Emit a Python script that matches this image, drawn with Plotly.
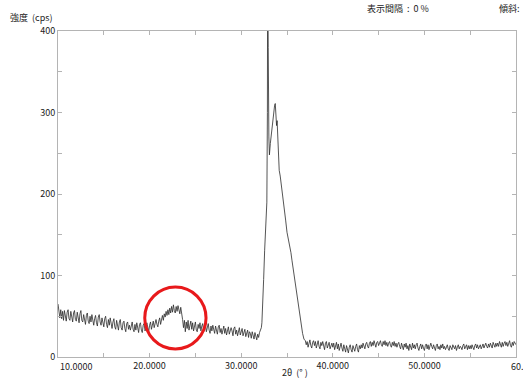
import numpy as np
import plotly.graph_objects as go

# ---- data ----
theta_low = np.round(np.arange(10.0, 32.15, 0.1), 2)
int_low = [
    65, 55, 48, 58, 47, 56, 45, 57, 51, 44,
    55, 58, 47, 45, 56, 50, 43, 54, 57, 46,
    44, 55, 48, 42, 53, 57, 45, 43, 52, 46,
    40, 51, 54, 44, 41, 50, 43, 52, 46, 39,
    47, 51, 42, 38, 49, 52, 43, 39, 48, 41,
    37, 47, 50, 40, 36, 46, 39, 48, 42, 35,
    43, 47, 37, 34, 45, 39, 33, 43, 46, 36,
    33, 42, 44, 35, 31, 41, 43, 34, 39, 33,
    41, 43, 34, 31, 40, 33, 42, 36, 30, 40,
    42, 33, 30, 39, 41, 32, 35, 42, 36, 31,
    39, 43, 34, 40, 44, 36, 41, 46, 40, 37,
    44, 48, 40, 46, 51, 45, 53, 49, 56, 51,
    58, 52, 60, 54, 62, 55, 64, 57, 54, 62,
    56, 63, 57, 53, 61, 55, 46, 36, 45, 31,
    43, 35, 45, 33, 41, 44, 34, 42, 32, 40,
    43, 33, 31, 40, 35, 42, 32, 38, 41, 31,
    37, 40, 31, 36, 41, 33, 29, 38, 32, 39,
    35, 29, 38, 32, 28, 37, 39, 30, 35, 28,
    34, 38, 29, 35, 27, 34, 37, 28, 33, 36,
    32, 26, 35, 37, 28, 33, 26, 32, 36, 27,
    32, 35, 26, 31, 34, 25, 30, 33, 24, 31,
    29, 23, 31, 27, 22, 30, 26, 21, 28, 24,
    30, 34,
]

theta_peak = [32.20, 32.26, 32.35, 32.45, 32.56, 32.68, 32.80, 32.86, 32.89, 32.95,
              33.02, 33.08, 33.18, 33.30, 33.42, 33.55, 33.65, 33.72, 33.80, 33.86,
              33.92, 34.00, 34.07, 34.15, 34.26, 34.37, 34.55, 34.73, 34.85, 35.00,
              35.10, 35.20, 35.30, 35.43, 35.55, 35.65, 35.75, 35.83, 35.95, 36.10,
              36.25, 36.40, 36.56, 36.70, 36.85]
int_peak = [36, 42, 62, 95, 131, 160, 190, 300, 520, 380,
            270, 248, 262, 275, 288, 298, 309, 311, 290, 284,
            290, 262, 248, 229, 222, 213, 196, 180, 168, 153,
            148, 142, 136, 128, 118, 110, 100, 94, 84, 74,
            60, 48, 37, 29, 22]

theta_high = np.round(np.arange(37.0, 60.05, 0.1), 2)
int_high = [
    20, 15, 19, 12, 18, 21, 14, 11, 18, 20,
    14, 19, 11, 16, 20, 13, 10, 18, 14, 19,
    13, 9, 17, 19, 11, 15, 18, 10, 14, 17,
    12, 17, 9, 14, 18, 10, 16, 8, 13, 17,
    11, 7, 15, 10, 6, 14, 9, 5, 12, 15,
    9, 6, 14, 10, 7, 13, 16, 9, 6, 14,
    10, 15, 11, 17, 13, 10, 16, 18, 13, 11,
    17, 19, 13, 18, 14, 20, 16, 12, 18, 19,
    14, 18, 20, 15, 13, 19, 15, 20, 14, 18,
    13, 17, 19, 14, 12, 18, 14, 19, 13, 17,
    12, 16, 18, 13, 10, 17, 13, 9, 16, 12,
    17, 10, 14, 8, 16, 12, 9, 17, 11, 15,
    10, 15, 17, 11, 8, 13, 16, 10, 15, 11,
    8, 14, 16, 10, 15, 9, 12, 17, 13, 10,
    15, 11, 8, 14, 16, 10, 13, 9, 15, 11,
    16, 10, 13, 9, 12, 15, 10, 8, 14, 12,
    9, 15, 12, 10, 14, 8, 12, 15, 10, 13,
    12, 9, 14, 16, 10, 12, 15, 9, 14, 10,
    14, 10, 15, 12, 9, 14, 16, 11, 15, 10,
    12, 15, 10, 14, 16, 11, 15, 17, 13, 11,
    16, 12, 17, 14, 11, 18, 15, 12, 17, 13,
    17, 13, 19, 14, 12, 18, 13, 17, 19, 14,
    18, 13, 17, 20, 14, 12, 18, 14, 19, 16,
    15,
]

theta = list(theta_low) + theta_peak + list(theta_high)
intensity = int_low[:len(theta_low)] + int_peak + int_high[:len(theta_high)]

x_ticks = [10, 15, 20, 25, 30, 35, 40, 45, 50, 55, 60]
x_ticktext = ["", "", "20.0000", "", "30.0000", "", "40.0000", "", "50.0000", "", ""]
y_ticks = [0, 50, 100, 150, 200, 250, 300, 350, 400]
y_ticktext = ["0", "", "100", "", "200", "", "300", "", "400"]

FONT = "Noto Sans CJK JP"
FRAME = "#b4b4b4"
TXT = "#222"
NB = "\u00a0"

fig = go.Figure()
fig.add_trace(go.Scatter(x=theta, y=intensity, mode="lines",
                         line=dict(color="#2a2a2a", width=0.8),
                         showlegend=False, hoverinfo="skip"))

fig.update_layout(
    width=523, height=383,
    margin=dict(l=58, r=7, t=31, b=26),
    paper_bgcolor="white", plot_bgcolor="white",
    font=dict(family=FONT, size=9, color=TXT),
    xaxis=dict(range=[10, 60], tickvals=x_ticks, ticktext=x_ticktext,
               ticks="inside", ticklen=4, tickcolor=FRAME, tickwidth=1,
               showline=True, linecolor=FRAME, linewidth=1, mirror="ticks",
               showgrid=False, zeroline=False,
               tickfont=dict(size=9, family=FONT, color=TXT)),
    yaxis=dict(range=[0, 400], tickvals=y_ticks, ticktext=y_ticktext,
               ticks="inside", ticklen=4, tickcolor=FRAME, tickwidth=1,
               showline=True, linecolor=FRAME, linewidth=1, mirror="ticks",
               showgrid=False, zeroline=False,
               tickfont=dict(size=9, family=FONT, color=TXT)),
)

W, H = 458, 326  # plot-area size in px

def px_x(px):
    return (px - 58) / W

def px_y(py):
    return (357 - py) / H

# edge tick labels (left-aligned as in the source)
fig.add_annotation(x=10, y=0, xref="x", yref="paper", text="10.0000",
                   showarrow=False, xanchor="left", yanchor="top", yshift=-1,
                   font=dict(size=9, family=FONT, color=TXT))
fig.add_annotation(x=59.2, y=0, xref="x", yref="paper", text="60.0000",
                   showarrow=False, xanchor="left", yanchor="top", yshift=-1,
                   font=dict(size=9, family=FONT, color=TXT))

# axis titles and header texts
fig.add_annotation(x=px_x(295), y=px_y(372), xref="paper", yref="paper",
                   text="2θ" + NB * 2 + "(°" + NB + ")", showarrow=False,
                   xanchor="center", yanchor="middle",
                   font=dict(size=9, family=FONT, color=TXT))
fig.add_annotation(x=px_x(8), y=px_y(17), xref="paper", yref="paper",
                   text="強度" + NB * 2 + "(cps)", showarrow=False,
                   xanchor="left", yanchor="middle",
                   font=dict(size=9, family=FONT, color=TXT))
fig.add_annotation(x=px_x(365), y=px_y(9), xref="paper", yref="paper",
                   text="表示間隔" + NB * 2 + ":" + NB * 2 + "0" + NB + "%",
                   showarrow=False, xanchor="left", yanchor="middle",
                   font=dict(size=9, family=FONT, color=TXT))
fig.add_annotation(x=px_x(497), y=px_y(9), xref="paper", yref="paper",
                   text="傾斜:", showarrow=False, xanchor="left", yanchor="middle",
                   font=dict(size=9, family=FONT, color=TXT))

# red circle highlight
fig.add_shape(type="circle", xref="x", yref="y",
              x0=19.47, x1=26.16, y0=9.8, y1=85.9,
              line=dict(color="#e8191b", width=3))

fig.write_html("out.html")
